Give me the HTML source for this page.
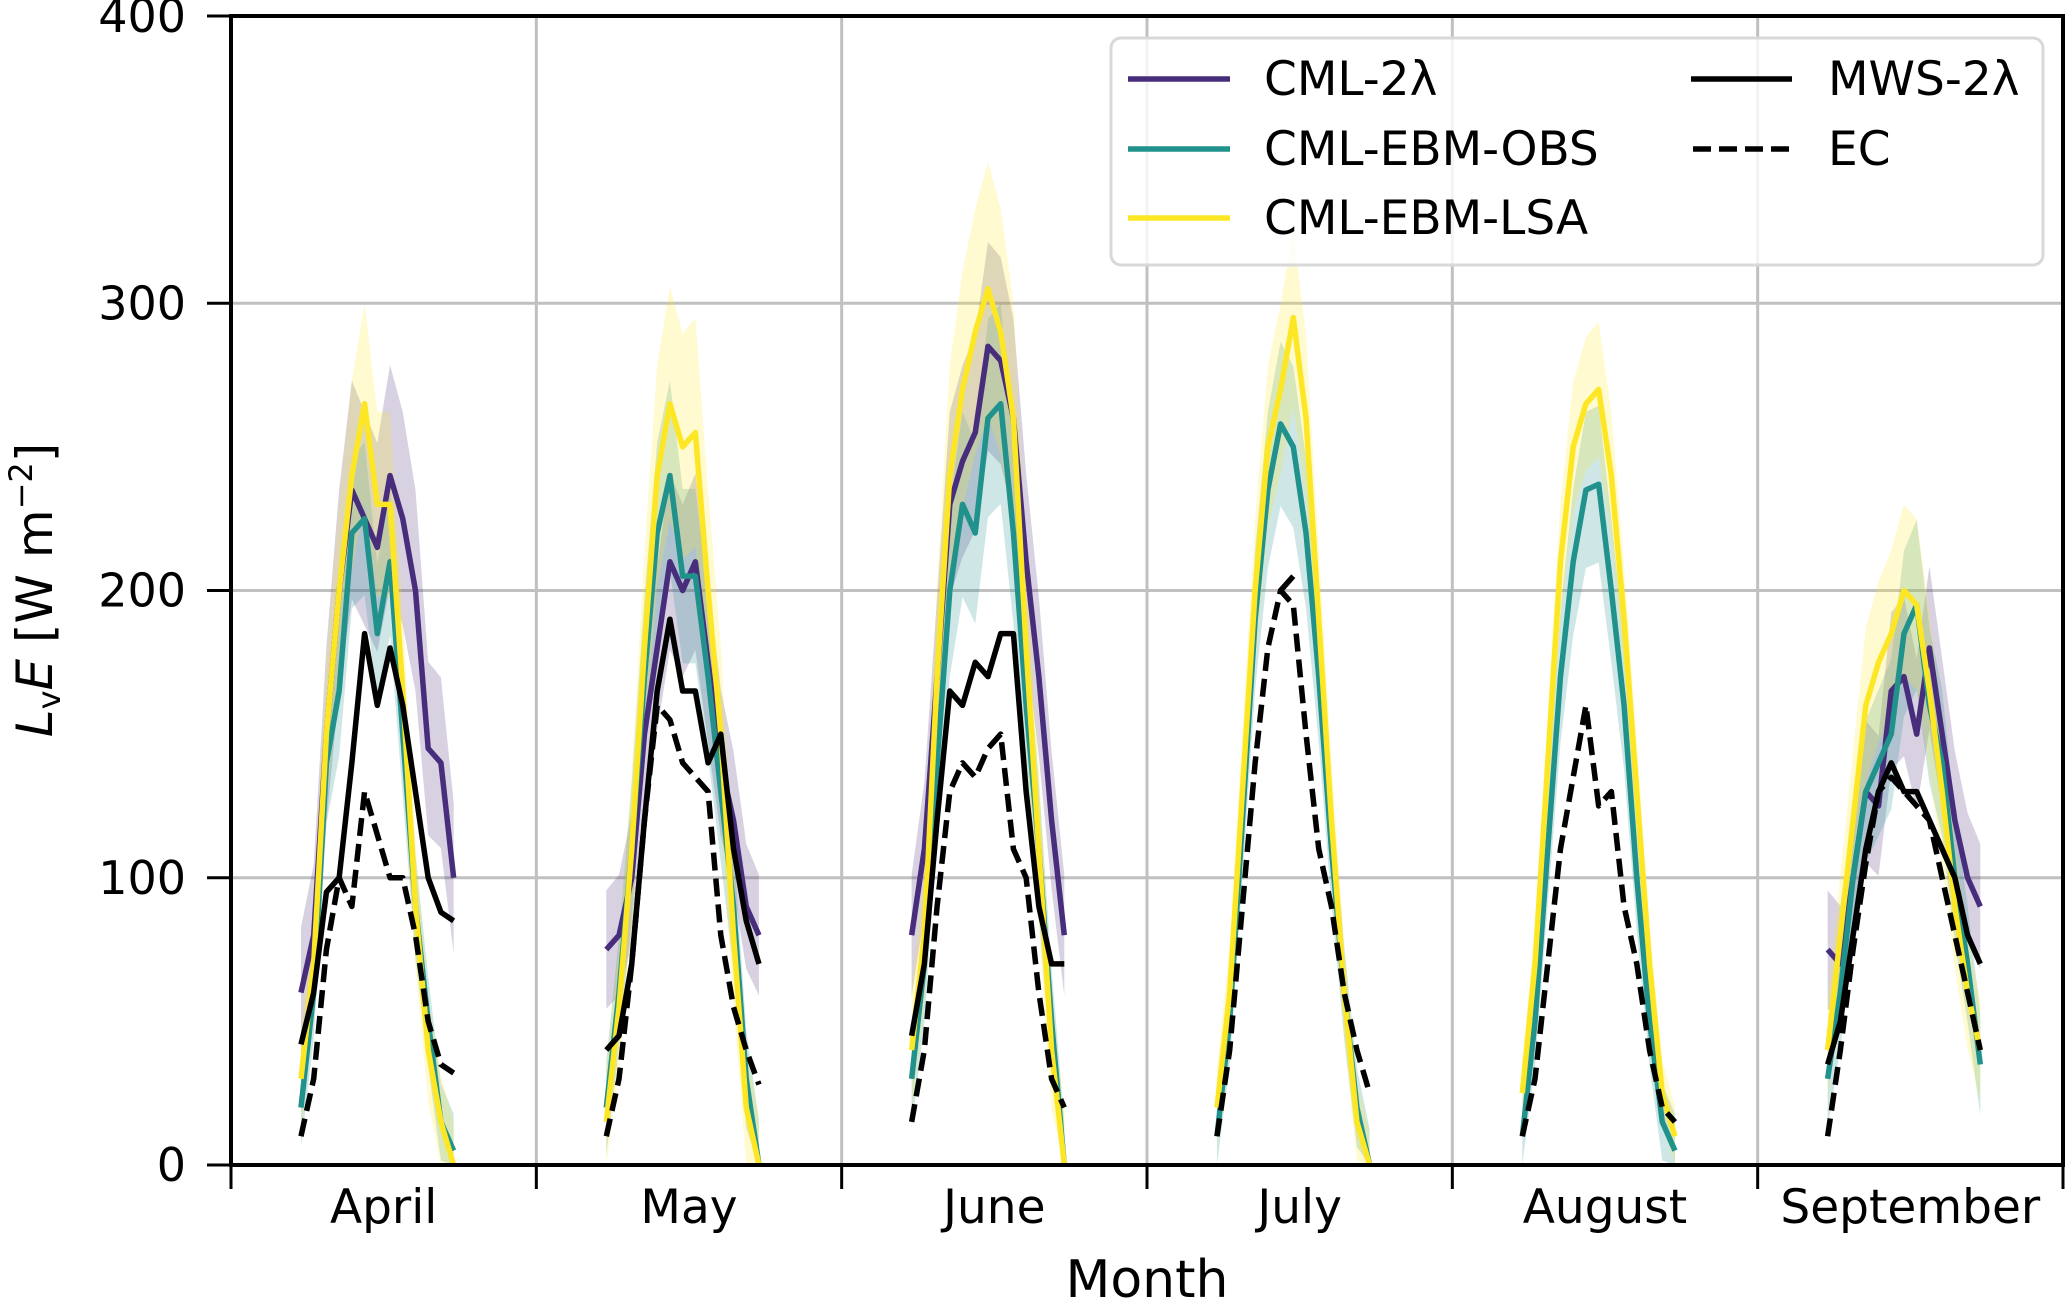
<!DOCTYPE html>
<html><head><meta charset="utf-8"><style>
html,body{margin:0;padding:0;background:#fff;}
svg{display:block;font-family:"DejaVu Sans","Liberation Sans",sans-serif;}
</style></head><body>
<svg id="chart" width="2067" height="1303" viewBox="0 0 2067 1303" xmlns="http://www.w3.org/2000/svg">
<g id="grid"></g>
<g id="bands"></g>
<g id="lines"></g>
<g id="axes"></g>
<text x="1147" y="1297" font-size="52" text-anchor="middle">Month</text>
<text transform="translate(52,590) rotate(-90)" font-size="50" text-anchor="middle"><tspan font-style="italic">L</tspan><tspan font-size="32" dy="8">v</tspan><tspan font-style="italic" dy="-8">E</tspan> [W m<tspan font-size="32" dy="-20">−2</tspan><tspan dy="20">]</tspan></text>
<g>
<rect x="1111" y="38" width="932" height="227" rx="10" fill="#fff" fill-opacity="0.8" stroke="#d8d8d8" stroke-width="3"/>
<line x1="1128" y1="79" x2="1230" y2="79" stroke="#472d7b" stroke-width="5.5"/>
<text x="1264" y="95" font-size="47">CML-2λ</text>
<line x1="1128" y1="149" x2="1230" y2="149" stroke="#21918c" stroke-width="5.5"/>
<text x="1264" y="165" font-size="47">CML-EBM-OBS</text>
<line x1="1128" y1="218" x2="1230" y2="218" stroke="#fde725" stroke-width="5.5"/>
<text x="1264" y="234" font-size="47">CML-EBM-LSA</text>
<line x1="1691" y1="79" x2="1792" y2="79" stroke="#000" stroke-width="5.5"/>
<text x="1828" y="95" font-size="47">MWS-2λ</text>
<line x1="1693" y1="149" x2="1792" y2="149" stroke="#000" stroke-width="5.5" stroke-dasharray="18,8"/>
<text x="1828" y="165" font-size="47">EC</text>
</g>
</svg>
<script>
const months = ["April","May","June","July","August","September"];
const hours = [5.5,6.5,7.5,8.5,9.5,10.5,11.5,12.5,13.5,14.5,15.5,16.5,17.5];
const yTicks = [0,100,200,300,400];
const cml2l = [
 [60,80,150,200,235,225,215,240,225,200,145,140,100],
 [75,80,100,150,180,210,200,210,175,140,120,90,80],
 [80,110,170,230,245,255,285,280,260,210,170,120,80],
 null, null,
 [75,70,100,130,125,165,170,150,180,150,120,100,90]];
const cmlObs = [
 [20,60,140,165,220,225,185,210,150,90,50,15,5],
 [20,60,110,170,220,240,205,205,170,130,90,30,0],
 [30,70,140,200,230,220,260,265,220,160,110,50,0],
 [10,50,120,190,235,258,250,220,170,110,60,20,0],
 [10,50,110,170,210,235,237,200,160,100,50,15,5],
 [30,60,100,130,140,150,185,195,160,140,100,70,35]];
const cmlLsa = [
 [30,70,150,200,240,265,230,230,165,90,40,15,0],
 [15,55,110,180,240,265,250,255,200,150,80,20,0],
 [40,80,170,240,270,290,305,290,260,180,110,40,0],
 [20,60,130,200,250,270,295,260,190,120,60,15,0],
 [25,70,140,210,250,265,270,240,190,130,70,25,10],
 [40,80,120,160,175,185,200,195,165,130,90,60,40]];
const mws2l = [
 [42,60,95,100,140,185,160,180,160,130,100,88,85],
 [40,45,70,120,165,190,165,165,140,150,110,85,70],
 [45,70,120,165,160,175,170,185,185,130,90,70,70],
 [null,null,null,null,null,200,205,null,null,null,null,null,null],
 null,
 [35,50,80,110,130,140,130,130,120,110,100,80,70]];
const ec = [
 [10,30,75,100,90,130,115,100,100,80,50,35,32],
 [10,30,70,120,160,155,140,135,130,80,55,40,28],
 [15,40,90,130,140,135,145,150,110,100,60,30,20],
 [10,40,90,140,180,200,195,150,110,90,60,40,25],
 [10,30,70,110,135,160,125,130,90,70,40,20,15],
 [10,40,75,105,130,135,130,125,120,100,80,60,40]];
const spread2l = [35,30,30,0,0,30];
const spreadObs = [25,30,30,25,25,30];
const spreadLsa = [30,35,35,25,20,30];

const NS="http://www.w3.org/2000/svg";
const L=231,R=2063,T=16,B=1165;
const xs=(m,h)=>L+(m+h/24)*(R-L)/6;
const ys=v=>B-v/400*(B-T);
function el(tag,attrs,parent){const e=document.createElementNS(NS,tag);for(const k in attrs)e.setAttribute(k,attrs[k]);parent.appendChild(e);return e;}
const grid=document.getElementById('grid'),bands=document.getElementById('bands'),lines=document.getElementById('lines'),axes=document.getElementById('axes');
yTicks.forEach(v=>{
 const g=el('line',{x1:L,x2:R,y1:ys(v),y2:ys(v),stroke:'#c0c0c0','stroke-width':3},grid);
 
 
 const t=el('line',{x1:207,x2:L,y1:ys(v),y2:ys(v),stroke:'#000','stroke-width':3},axes);
 
 
 const tx=el('text',{x:186,y:ys(v)+16,'font-size':46,'text-anchor':'end'},axes);
 tx.textContent=v;
 
 
});
for(let m=0;m<=6;m++){
 const x=L+m*(R-L)/6;
 if(m>0&&m<6){const g=el('line',{x1:x,x2:x,y1:T,y2:B,stroke:'#c0c0c0','stroke-width':3},grid);
 
 }
 const t=el('line',{x1:x,x2:x,y1:B,y2:B+24,stroke:'#000','stroke-width':3},axes);
 
 
}
months.forEach((n,m)=>{
 const tx=el('text',{x:xs(m,12),y:1223,'font-size':47,'text-anchor':'middle'},axes);
 tx.textContent=n;
 
 
});
const fr=el('rect',{x:L,y:T,width:R-L,height:B-T,fill:'none',stroke:'#000','stroke-width':4},axes);



function band(data,spread,color,name){
 data.forEach((arr,m)=>{ if(!arr||!spread[m])return;
  const up=[],dn=[];
  arr.forEach((v,i)=>{if(v==null)return;up.push(xs(m,hours[i])+','+ys(Math.min(v+spread[m]*(0.5+v/400),400)));dn.unshift(xs(m,hours[i])+','+ys(Math.max(v-spread[m]*(0.5+v/400),0)));});
  const p=el('polygon',{points:up.concat(dn).join(' '),fill:color,'fill-opacity':0.22},bands);
  
  
 });
}
function line(data,color,name,dash){
 data.forEach((arr,m)=>{ if(!arr)return;
  let seg=[];
  const flush=()=>{if(seg.length>1){const p=el('polyline',{points:seg.join(' '),fill:'none',stroke:color,'stroke-width':5.5,'stroke-linejoin':'round'},lines);
   if(dash)p.setAttribute('stroke-dasharray','18,8');
   
   }seg=[];};
  arr.forEach((v,i)=>{if(v==null){flush();return;}seg.push(xs(m,hours[i])+','+ys(v));});
  flush();
 });
}
band(cml2l,spread2l,'#472d7b','cml-2l');
band(cmlObs,spreadObs,'#21918c','cml-ebm-obs');
band(cmlLsa,spreadLsa,'#fde725','cml-ebm-lsa');
line(cml2l,'#472d7b','cml-2l');
line(cmlObs,'#21918c','cml-ebm-obs');
line(cmlLsa,'#fde725','cml-ebm-lsa');
line(mws2l,'#000','mws-2l');
line(ec,'#000','ec',true);
</script>
</body></html>
